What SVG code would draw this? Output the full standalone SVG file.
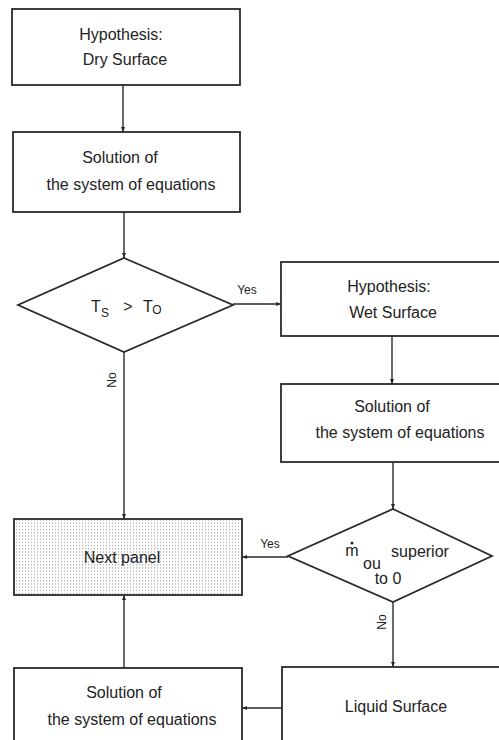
<svg xmlns="http://www.w3.org/2000/svg" width="499" height="740" viewBox="0 0 499 740">
<defs>
<style>
.box{fill:#fff;stroke:#2a2a2a;stroke-width:1.8}
.dia{fill:#fff;stroke:#2a2a2a;stroke-width:1.8}
.ln{fill:none;stroke:#2a2a2a;stroke-width:1.4}
.t{font-family:"Liberation Sans",Arial,sans-serif;font-size:16px;fill:#222;text-anchor:middle}
.s{font-family:"Liberation Sans",Arial,sans-serif;font-size:12px;fill:#222;text-anchor:middle}
</style>
<marker id="ah" viewBox="0 0 10 10" refX="10" refY="5" markerWidth="5" markerHeight="5" orient="auto" markerUnits="userSpaceOnUse">
<path d="M0,1 L10,5 L0,9 Z" fill="#2a2a2a"/>
</marker>
<pattern id="dots" width="3" height="3.2" patternUnits="userSpaceOnUse">
<rect width="3" height="3.2" fill="#fff"/>
<rect x="1" y="1" width="1.1" height="1.1" fill="#9a9a9a"/>
</pattern>
</defs>
<rect width="499" height="740" fill="#fff"/>

<g id="connectors">
<line class="ln" x1="123" y1="85" x2="123" y2="132" marker-end="url(#ah)"/>
<line class="ln" x1="124" y1="212" x2="124" y2="258" marker-end="url(#ah)"/>
<line class="ln" x1="233" y1="304" x2="281" y2="304" marker-end="url(#ah)"/>
<text class="s" x="247" y="294">Yes</text>
<line class="ln" x1="392" y1="336" x2="392" y2="384" marker-end="url(#ah)"/>
<line class="ln" x1="393" y1="462" x2="393" y2="509" marker-end="url(#ah)"/>
<line class="ln" x1="124" y1="352" x2="124" y2="519" marker-end="url(#ah)"/>
<text class="s" transform="translate(116,380) rotate(-90)">No</text>
<line class="ln" x1="288" y1="557" x2="242" y2="557" marker-end="url(#ah)"/>
<text class="s" x="270" y="548">Yes</text>
<line class="ln" x1="393" y1="602" x2="393" y2="667" marker-end="url(#ah)"/>
<text class="s" transform="translate(386,622) rotate(-90)">No</text>
<line class="ln" x1="282" y1="708" x2="242" y2="708" marker-end="url(#ah)"/>
<line class="ln" x1="124" y1="668" x2="124" y2="595" marker-end="url(#ah)"/>
</g>

<g id="dry">
<rect class="box" x="12" y="9" width="228" height="76"/>
<text class="t" x="121" y="40">Hypothesis:</text>
<text class="t" x="125" y="65">Dry Surface</text>
</g>

<g id="solve1">
<rect class="box" x="13" y="132" width="227" height="80"/>
<text class="t" x="120" y="163">Solution of</text>
<text class="t" x="131" y="190">the system of equations</text>
</g>

<g id="test1">
<polygon class="dia" points="124,258 233,305 124,352 18,305"/>
<text class="t" x="96" y="312">T</text>
<text class="s" x="105" y="317">S</text>
<text class="t" x="128" y="312">&gt;</text>
<text class="t" x="148" y="312">T</text>
<text class="s" x="157" y="314">O</text>
</g>

<g id="wet">
<rect class="box" x="281" y="262" width="230" height="74"/>
<text class="t" x="389" y="292">Hypothesis:</text>
<text class="t" x="393" y="318">Wet Surface</text>
</g>

<g id="solve2">
<rect class="box" x="281" y="384" width="230" height="78"/>
<text class="t" x="392" y="412">Solution of</text>
<text class="t" x="400" y="438">the system of equations</text>
</g>

<g id="test2">
<polygon class="dia" points="393,509 492,556 393,602 288,556"/>
<text class="t" x="352" y="556">m</text>
<circle cx="352" cy="543" r="1.5" fill="#222"/>
<text class="t" x="372" y="569">ou</text>
<text class="t" x="420" y="557">superior</text>
<text class="t" x="388" y="584">to 0</text>
</g>

<g id="next">
<rect x="14" y="519" width="228" height="76" fill="url(#dots)" stroke="#2a2a2a" stroke-width="1.8"/>
<text class="t" x="122" y="563">Next panel</text>
</g>

<g id="solve3">
<rect class="box" x="14" y="668" width="228" height="80"/>
<text class="t" x="124" y="698">Solution of</text>
<text class="t" x="132" y="725">the system of equations</text>
</g>

<g id="liquid">
<rect class="box" x="282" y="667" width="230" height="80"/>
<text class="t" x="396" y="712">Liquid Surface</text>
</g>
</svg>
